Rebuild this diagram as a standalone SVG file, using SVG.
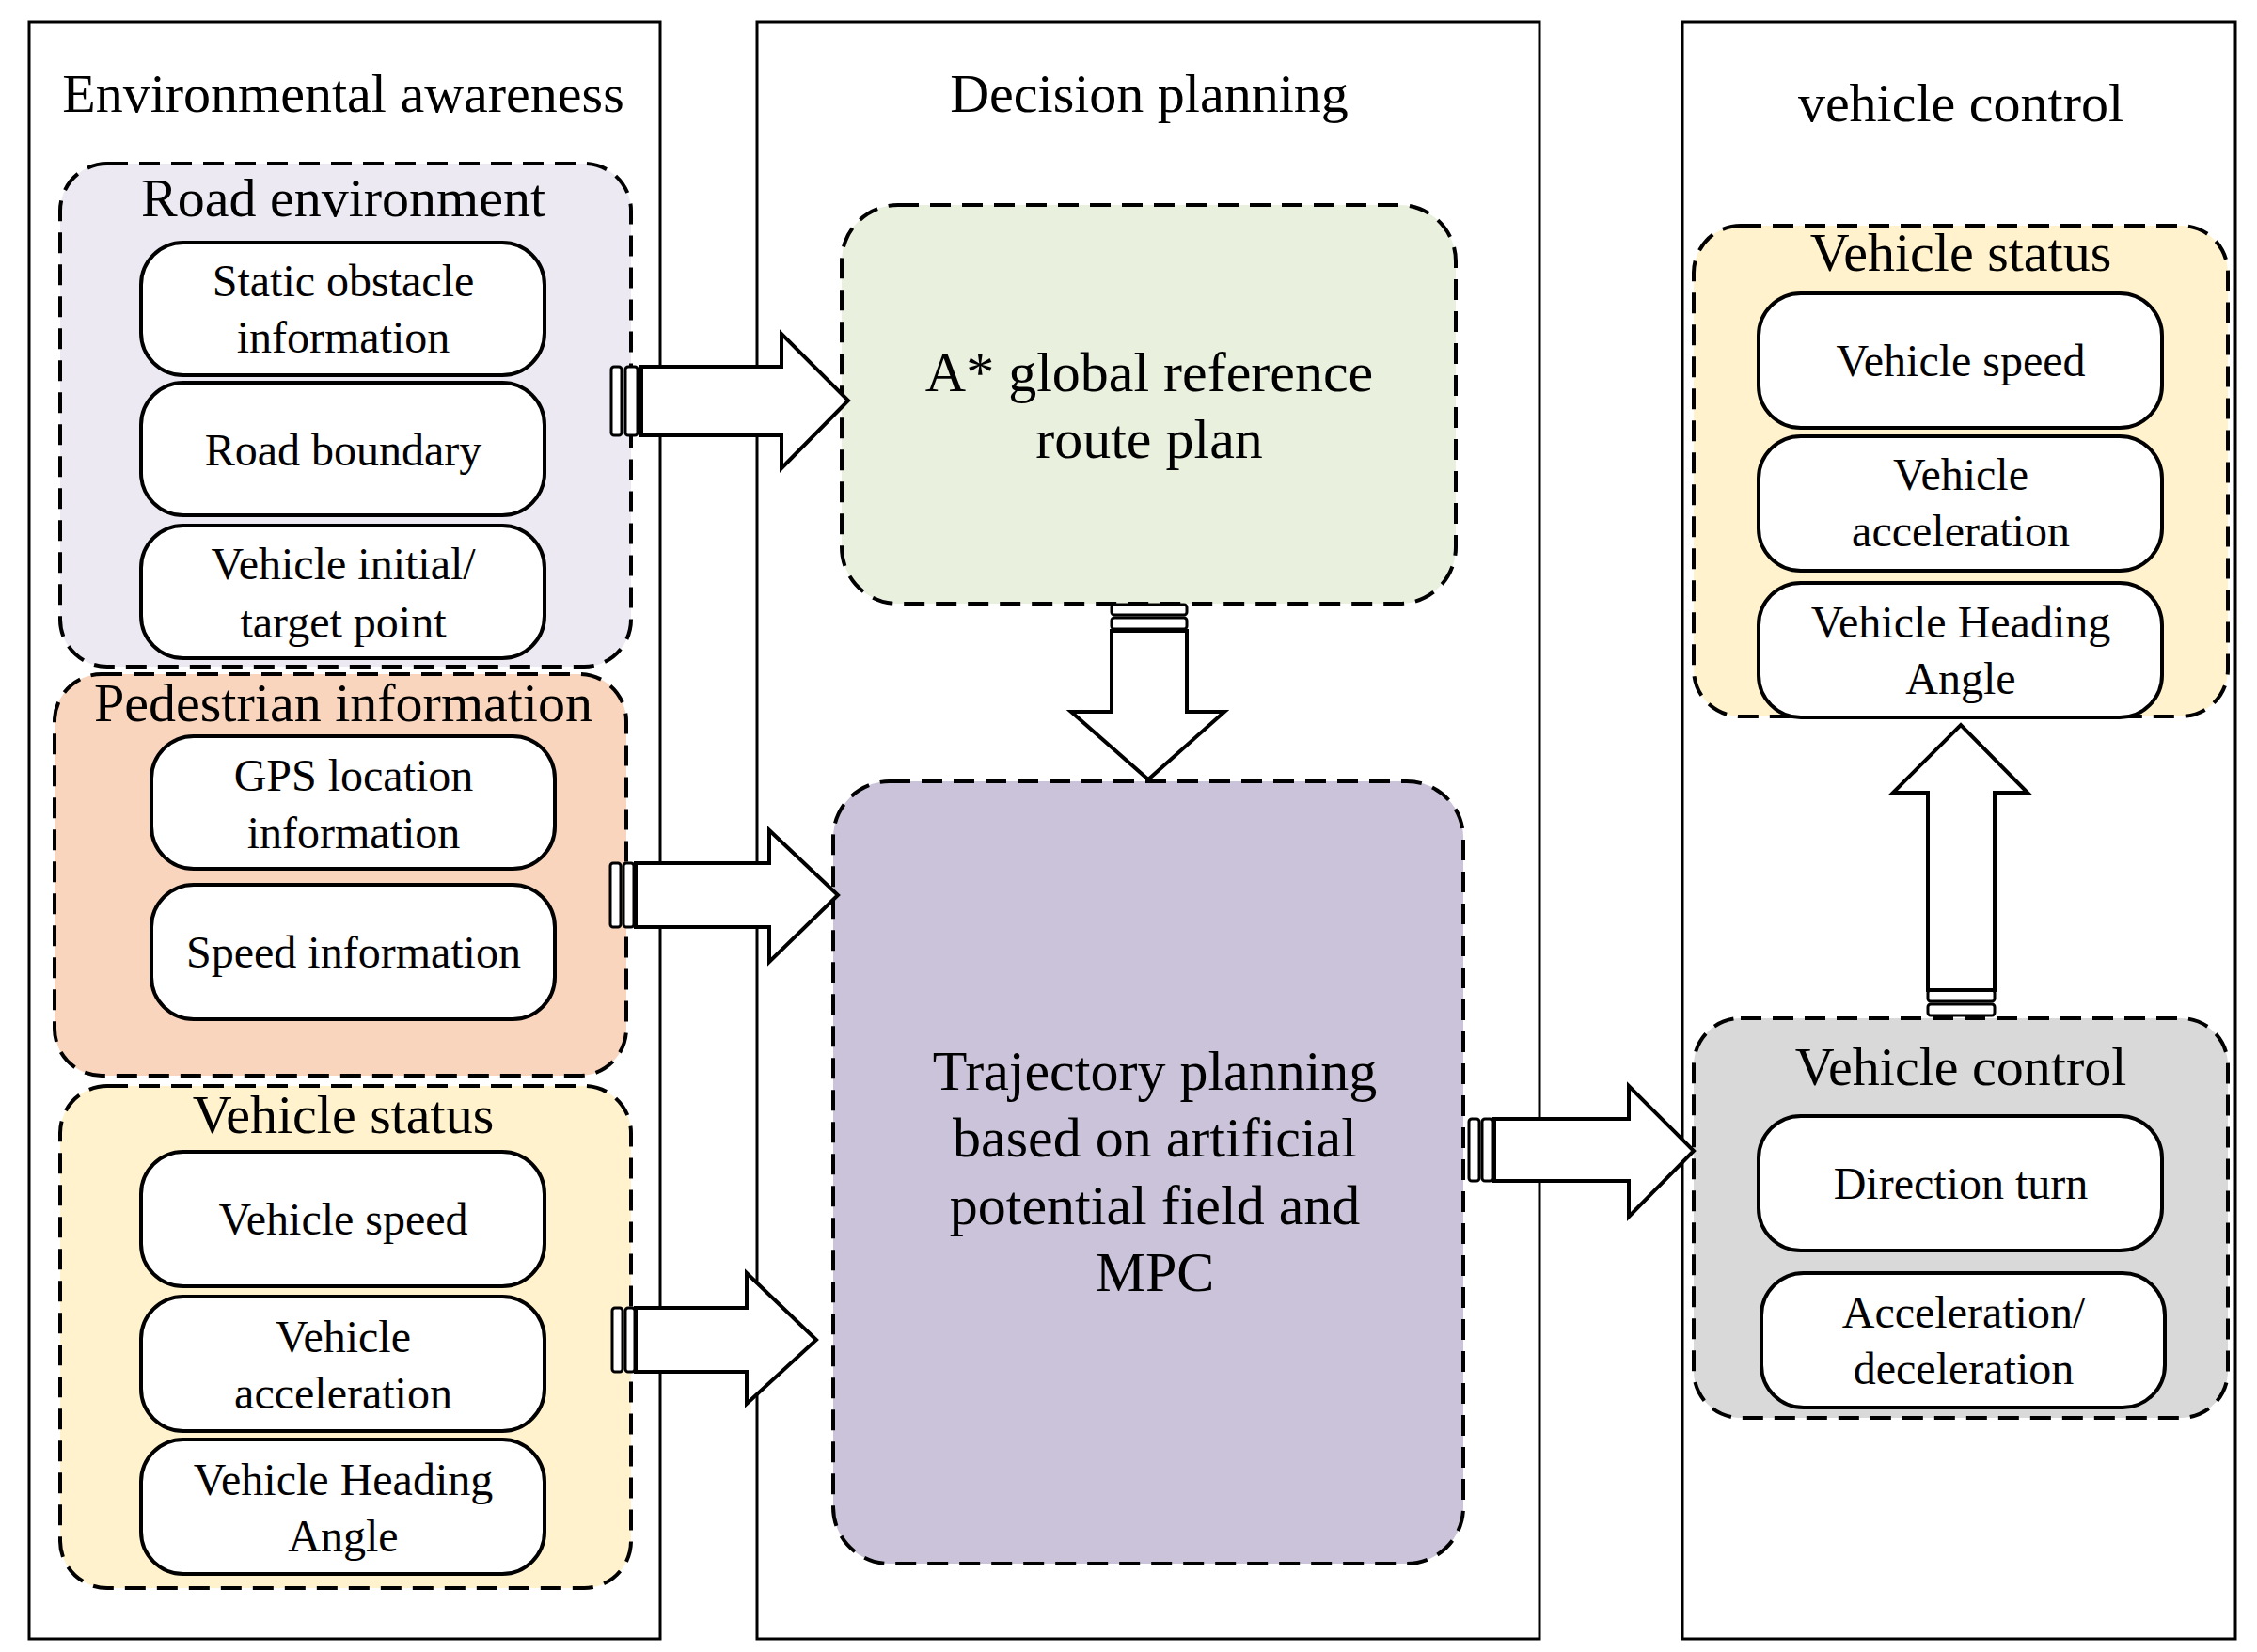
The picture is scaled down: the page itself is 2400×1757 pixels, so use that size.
<svg xmlns="http://www.w3.org/2000/svg" width="2400" height="1757" viewBox="0 0 2400 1757">
<style>
text{font-family:"Liberation Serif","Times New Roman",serif;fill:#000;text-anchor:middle}
.t{font-size:58px}
.s{font-size:48px}
.b{font-size:60px}
.panel{fill:#fff;stroke:#000;stroke-width:3}
.grp{stroke:#000;stroke-width:4;stroke-dasharray:22,12}
.box{fill:#fff;stroke:#000;stroke-width:4}
.arr{fill:#fff;stroke:#000;stroke-width:4;stroke-linejoin:miter}
.stub{fill:#fff;stroke:#000;stroke-width:3}
</style>
<rect width="2400" height="1757" fill="#fff"/>
<g id="panels">
<rect class="panel" x="31" y="23" width="671" height="1720"/>
<rect class="panel" x="805" y="23" width="832" height="1720"/>
<rect class="panel" x="1789" y="23" width="588" height="1720"/>
<text class="t" x="365" y="119">Environmental awareness</text>
<text class="t" x="1222" y="119">Decision planning</text>
<text class="t" x="2085" y="129">vehicle control</text>
</g>
<g id="road">
<rect class="grp" x="64" y="174" width="607" height="535" rx="50" fill="#ECE9F2"/>
<text class="t" x="365" y="230">Road environment</text>
<rect class="box" x="150" y="258" width="429" height="141" rx="45"/>
<text class="s" x="365" y="315">Static obstacle</text>
<text class="s" x="365" y="375">information</text>
<rect class="box" x="150" y="407" width="429" height="141" rx="45"/>
<text class="s" x="365" y="495">Road boundary</text>
<rect class="box" x="150" y="559" width="429" height="141" rx="45"/>
<text class="s" x="365" y="616">Vehicle initial/</text>
<text class="s" x="365" y="678">target point</text>
</g>
<g id="pedestrian">
<rect class="grp" x="58" y="717" width="608" height="427" rx="50" fill="#F8D5BC"/>
<text class="t" x="365" y="767">Pedestrian information</text>
<rect class="box" x="161" y="783" width="429" height="141" rx="45"/>
<text class="s" x="376" y="841">GPS location</text>
<text class="s" x="376" y="902">information</text>
<rect class="box" x="161" y="941" width="429" height="143" rx="45"/>
<text class="s" x="376" y="1029">Speed information</text>
</g>
<g id="status-left">
<rect class="grp" x="64" y="1155" width="607" height="534" rx="50" fill="#FFF2CC"/>
<text class="t" x="365" y="1205">Vehicle status</text>
<rect class="box" x="150" y="1225" width="429" height="143" rx="45"/>
<text class="s" x="365" y="1313">Vehicle speed</text>
<rect class="box" x="150" y="1379" width="429" height="143" rx="45"/>
<text class="s" x="365" y="1438">Vehicle</text>
<text class="s" x="365" y="1498">acceleration</text>
<rect class="box" x="150" y="1531" width="429" height="143" rx="45"/>
<text class="s" x="365" y="1590">Vehicle Heading</text>
<text class="s" x="365" y="1650">Angle</text>
</g>
<g id="astar">
<rect class="grp" x="895" y="218" width="653" height="424" rx="60" fill="#E9F0DE"/>
<text class="b" x="1222" y="416">A* global reference</text>
<text class="b" x="1222" y="487">route plan</text>
</g>
<g id="trajectory">
<rect class="grp" x="886" y="831" width="670" height="832" rx="60" fill="#CBC3DA"/>
<text class="b" x="1228" y="1159">Trajectory planning</text>
<text class="b" x="1228" y="1230">based on artificial</text>
<text class="b" x="1228" y="1302">potential field and</text>
<text class="b" x="1228" y="1373">MPC</text>
</g>
<g id="status-right">
<rect class="grp" x="1801" y="240" width="568" height="522" rx="50" fill="#FFF2CC"/>
<text class="t" x="2085" y="288">Vehicle status</text>
<rect class="box" x="1870" y="312" width="429" height="143" rx="45"/>
<text class="s" x="2085" y="400">Vehicle speed</text>
<rect class="box" x="1870" y="464" width="429" height="143" rx="45"/>
<text class="s" x="2085" y="521">Vehicle</text>
<text class="s" x="2085" y="581">acceleration</text>
<rect class="box" x="1870" y="620" width="429" height="143" rx="45"/>
<text class="s" x="2085" y="678">Vehicle Heading</text>
<text class="s" x="2085" y="738">Angle</text>
</g>
<g id="control">
<rect class="grp" x="1801" y="1083" width="568" height="425" rx="50" fill="#D9D9D9"/>
<text class="t" x="2085" y="1154">Vehicle control</text>
<rect class="box" x="1870" y="1187" width="429" height="143" rx="45"/>
<text class="s" x="2085" y="1275">Direction turn</text>
<rect class="box" x="1873" y="1354" width="429" height="143" rx="45"/>
<text class="s" x="2088" y="1412">Acceleration/</text>
<text class="s" x="2088" y="1472">deceleration</text>
</g>
<g id="connectors">
<rect class="stub" x="650" y="390" width="11" height="73" rx="3"/>
<rect class="stub" x="665" y="390" width="13" height="73" rx="3"/>
<path class="arr" d="M682,390 H831 V355 L902,426 L831,498 V463 H682 Z"/>
<rect class="stub" x="649" y="918" width="11" height="68" rx="3"/>
<rect class="stub" x="663" y="918" width="11" height="68" rx="3"/>
<path class="arr" d="M676,918 H818 V883 L891,952 L818,1023 V986 H676 Z"/>
<rect class="stub" x="651" y="1391" width="11" height="68" rx="3"/>
<rect class="stub" x="665" y="1391" width="10" height="68" rx="3"/>
<path class="arr" d="M676,1391 H794 V1354 L868,1425 L794,1493 V1459 H676 Z"/>
<rect class="stub" x="1562" y="1190" width="11" height="66" rx="3"/>
<rect class="stub" x="1576" y="1190" width="11" height="66" rx="3"/>
<path class="arr" d="M1589,1190 H1732 V1155 L1801,1224 L1732,1294 V1256 H1589 Z"/>
<rect class="stub" x="1182" y="643" width="80" height="11" rx="3"/>
<rect class="stub" x="1182" y="657" width="80" height="12" rx="3"/>
<path class="arr" d="M1182,671 V757 H1139 L1221,829 L1302,757 H1262 V671 Z"/>
<rect class="stub" x="2050" y="1053" width="71" height="12" rx="3"/>
<rect class="stub" x="2050" y="1068" width="71" height="12" rx="3"/>
<path class="arr" d="M2050,1053 V843 H2013 L2085,771 L2156,843 H2121 V1053 Z"/>
</g>
</svg>
